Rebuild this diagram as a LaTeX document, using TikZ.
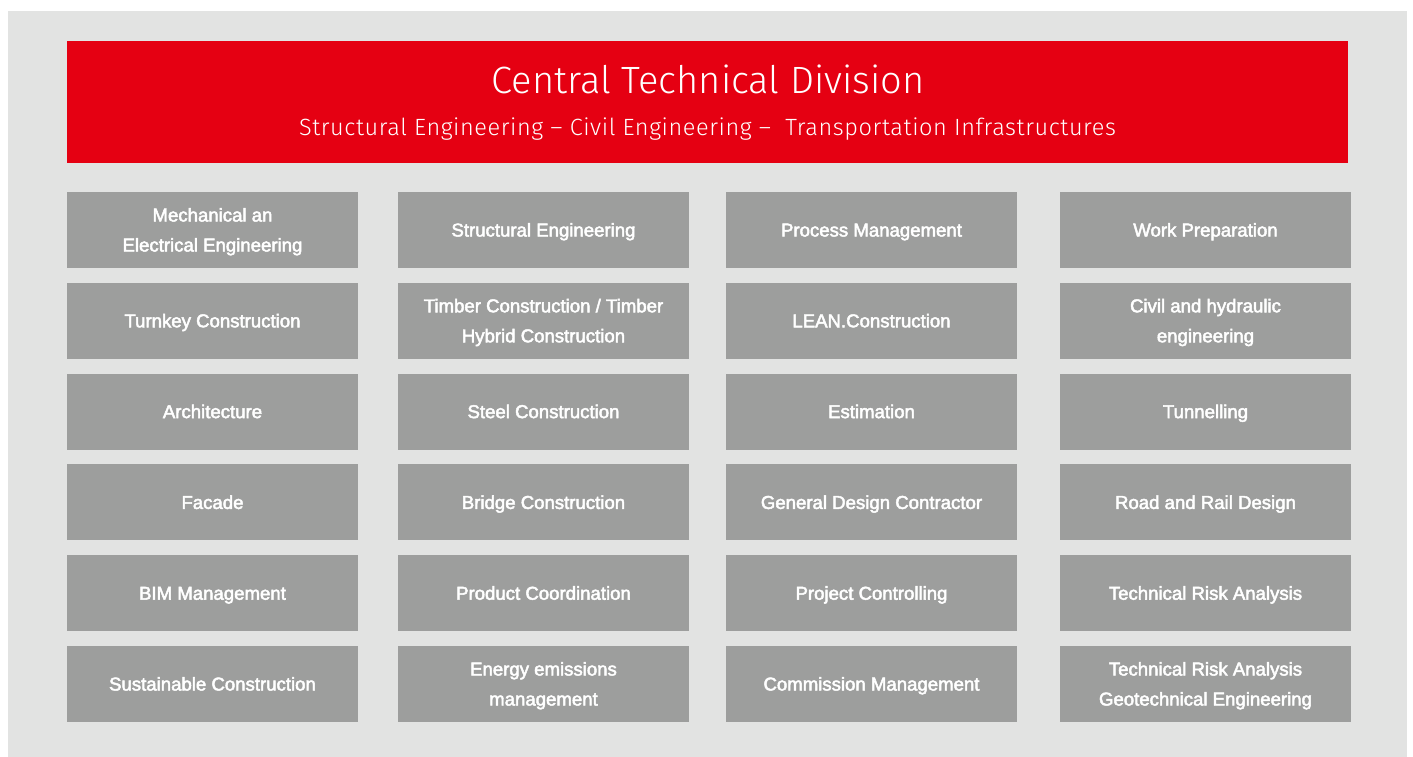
\documentclass[tikz,border=0pt]{standalone}
\usepackage{fontspec}
\setmainfont{Liberation Sans}
\newfontfamily\cellfont{Liberation Sans}[FakeBold=2.6]
\newfontfamily\headfont{Fira Sans}[UprightFont=* Light]
\newfontfamily\subfont{Fira Sans}[UprightFont=* Light, LetterSpace=2.5]
\definecolor{pagebg}{HTML}{E2E3E2}
\definecolor{divred}{HTML}{E50012}
\definecolor{cellgray}{HTML}{9D9E9D}
\begin{document}
\begin{tikzpicture}[x=1pt,y=-1pt,
  cell/.style={rectangle, fill=cellgray, minimum width=291pt, minimum height=76pt,
    inner sep=0pt, align=center, text=white, text height=15pt, text depth=2pt,
    font=\cellfont\fontsize{18.6}{30}\selectfont},
  cell2/.style={cell, text height=45pt},
  headbox/.style={rectangle, fill=divred, minimum width=1281pt, minimum height=122pt, inner sep=0pt},
  headtitle/.style={text=white, inner sep=0pt, font=\headfont\fontsize{38}{40}\selectfont},
  headsub/.style={text=white, inner sep=0pt, font=\subfont\fontsize{23.5}{26}\selectfont}]
\useasboundingbox (0,0) rectangle (1413,757);
% page background
\fill[pagebg] (8,11) rectangle (1407,757);
% division header
\node[headbox] (head) at (707.5,102) {};
\node[headtitle] (title) at (708,79) {Central Technical Division};
\node[headsub] (subtitle) at (707.5,129) {Structural Engineering – Civil Engineering – \ Transportation Infrastructures};
% column 1
\node[cell2] (a1) at (212.5,230) {Mechanical an\\Electrical Engineering};
\node[cell] (a2) at (212.5,320.8) {Turnkey Construction};
\node[cell] (a3) at (212.5,411.6) {Architecture};
\node[cell] (a4) at (212.5,502.4) {Facade};
\node[cell] (a5) at (212.5,593.2) {BIM Management};
\node[cell] (a6) at (212.5,684) {Sustainable Construction};
% column 2
\node[cell] (b1) at (543.5,230) {Structural Engineering};
\node[cell2] (b2) at (543.5,320.8) {Timber Construction / Timber\\Hybrid Construction};
\node[cell] (b3) at (543.5,411.6) {Steel Construction};
\node[cell] (b4) at (543.5,502.4) {Bridge Construction};
\node[cell] (b5) at (543.5,593.2) {Product Coordination};
\node[cell2] (b6) at (543.5,684) {Energy emissions\\management};
% column 3
\node[cell] (c1) at (871.5,230) {Process Management};
\node[cell] (c2) at (871.5,320.8) {LEAN.Construction};
\node[cell] (c3) at (871.5,411.6) {Estimation};
\node[cell] (c4) at (871.5,502.4) {General Design Contractor};
\node[cell] (c5) at (871.5,593.2) {Project Controlling};
\node[cell] (c6) at (871.5,684) {Commission Management};
% column 4
\node[cell] (d1) at (1205.5,230) {Work Preparation};
\node[cell2] (d2) at (1205.5,320.8) {Civil and hydraulic\\engineering};
\node[cell] (d3) at (1205.5,411.6) {Tunnelling};
\node[cell] (d4) at (1205.5,502.4) {Road and Rail Design};
\node[cell] (d5) at (1205.5,593.2) {Technical Risk Analysis};
\node[cell2] (d6) at (1205.5,684) {Technical Risk Analysis\\Geotechnical Engineering};
\end{tikzpicture}
\end{document}
